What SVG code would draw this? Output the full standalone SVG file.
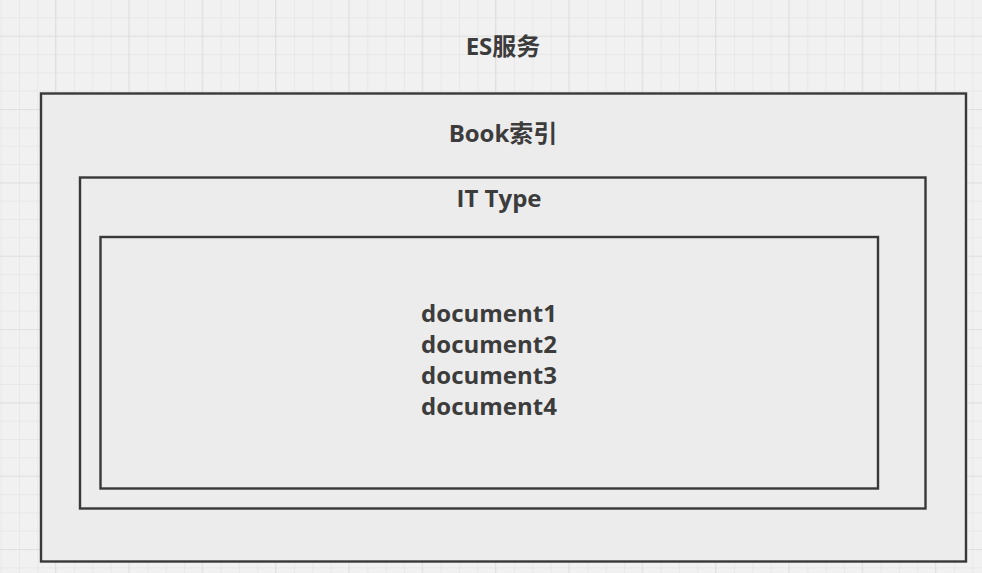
<svg xmlns="http://www.w3.org/2000/svg" width="982" height="573" viewBox="0 0 982 573">
  <defs>
    <pattern id="minor" patternUnits="userSpaceOnUse" x="1.67" y="0" width="18.333" height="18.333">
      <path d="M18.333 0 V18.333 M0 18.333 H18.333" fill="none" stroke="#e0e0e0" stroke-width="1"/>
    </pattern>
    <pattern id="major" patternUnits="userSpaceOnUse" x="-17.33" y="-36.6" width="73.333" height="73.333">
      <path d="M73.333 0 V73.333 M0 73.333 H73.333" fill="none" stroke="#d8d8d8" stroke-width="1.2"/>
    </pattern>
    <style>
      .box { fill: #ececec; stroke: #383838; stroke-width: 2.4; }
      .lbl { font-family: "Open Sans", "Noto Sans CJK SC", sans-serif; font-weight: bold; font-size: 24px; fill: #3c3c3c; text-anchor: middle; }
    </style>
  </defs>
  <rect width="982" height="573" fill="#f1f1f1"/>
  <rect width="982" height="573" fill="url(#minor)"/>
  <rect width="982" height="573" fill="url(#major)"/>
  <g id="es-service">
    <text class="lbl" x="503" y="55">ES服务</text>
  </g>
  <g id="book-index">
    <rect class="box" x="41" y="93.5" width="925" height="468"/>
    <text class="lbl" x="503" y="142">Book索引</text>
  </g>
  <g id="it-type">
    <rect class="box" x="80" y="177.5" width="845.5" height="331"/>
    <text class="lbl" x="499" y="207">IT Type</text>
  </g>
  <g id="documents">
    <rect class="box" x="100.5" y="237" width="777.5" height="251.5"/>
    <text class="lbl" x="489" y="322">document1</text>
    <text class="lbl" x="489" y="353">document2</text>
    <text class="lbl" x="489" y="384">document3</text>
    <text class="lbl" x="489" y="415">document4</text>
  </g>
  <g id="connectors"/>
</svg>
